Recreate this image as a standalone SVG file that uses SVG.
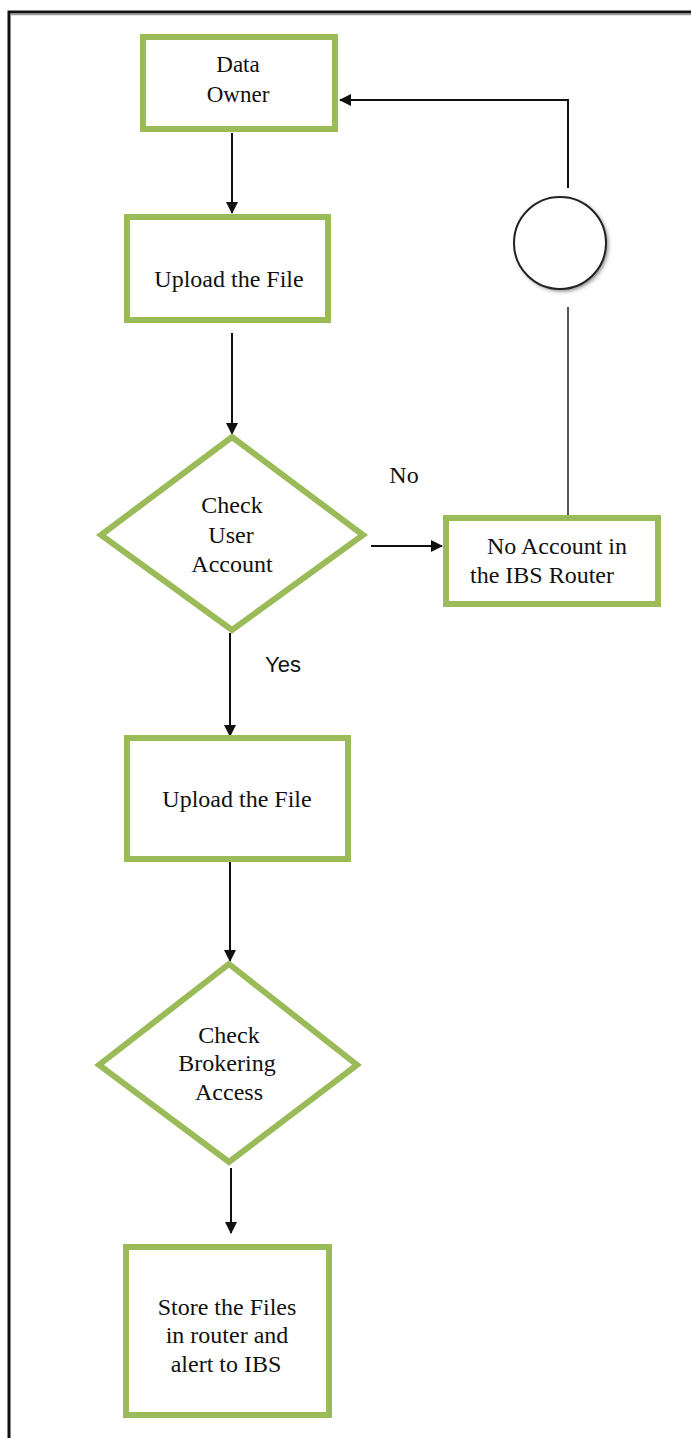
<svg xmlns="http://www.w3.org/2000/svg" width="691" height="1438" viewBox="0 0 691 1438">
<defs>
<style>
.box{fill:#fff;stroke:#9BBB59;stroke-width:6}
.t{font-family:"Liberation Serif","Times New Roman",serif;font-size:24px;fill:#111;text-anchor:middle}
.ln{fill:none;stroke:#111;stroke-width:2}
.gl{fill:none;stroke:#555;stroke-width:2}
</style>
<marker id="ah" markerWidth="12" markerHeight="12" refX="11" refY="6" orient="auto" markerUnits="userSpaceOnUse">
<path d="M0,0 L12,6 L0,12 Z" fill="#111"/>
</marker>
<filter id="sh" x="-20%" y="-20%" width="150%" height="150%">
<feGaussianBlur stdDeviation="2"/>
</filter>
</defs>
<rect width="691" height="1438" fill="#fff"/>
<g id="frame">
<path d="M9,1438 V12 H691" fill="none" stroke="#111" stroke-width="3"/>
<line x1="10" y1="14.5" x2="691" y2="14.5" stroke="#999" stroke-width="1.5"/>
</g>
<g id="connectors">
<line class="ln" x1="232" y1="133" x2="232" y2="213" marker-end="url(#ah)"/>
<line class="ln" x1="232" y1="333" x2="232" y2="434" marker-end="url(#ah)"/>
<line class="ln" x1="371" y1="546" x2="442" y2="546" marker-end="url(#ah)"/>
<line class="gl" x1="568" y1="515" x2="568" y2="307"/>
<polyline class="ln" points="568,188 568,100 340,100" marker-end="url(#ah)"/>
<line class="ln" x1="230" y1="633" x2="230" y2="736" marker-end="url(#ah)"/>
<line class="ln" x1="230" y1="862" x2="230" y2="961" marker-end="url(#ah)"/>
<line class="ln" x1="231" y1="1168" x2="231" y2="1233" marker-end="url(#ah)"/>
</g>
<g id="data-owner">
<rect class="box" x="143" y="37" width="192" height="92"/>
<text class="t" x="238" y="72" style="font-size:23px">Data</text>
<text class="t" x="238" y="102" style="font-size:23px">Owner</text>
</g>
<g id="upload-1">
<rect class="box" x="127" y="217" width="201" height="103"/>
<text class="t" x="229" y="287">Upload the File</text>
</g>
<g id="check-user-account">
<polygon class="box" points="232,437 363,535 232,630 101,535"/>
<text class="t" x="232" y="513">Check</text>
<text class="t" x="231" y="543">User</text>
<text class="t" x="232" y="572">Account</text>
</g>
<text class="t" x="404" y="483">No</text>
<g id="no-account">
<rect class="box" x="446" y="518" width="212" height="86"/>
<text class="t" x="557" y="554">No Account in</text>
<text class="t" x="542" y="583">the IBS Router</text>
</g>
<g id="connector-circle">
<circle cx="562" cy="245" r="46" fill="#777" filter="url(#sh)"/>
<circle cx="560" cy="243" r="46" fill="#fff" stroke="#222" stroke-width="2"/>
</g>
<text x="283" y="672" style="font-family:'Liberation Sans',Arial,sans-serif;font-size:22px;fill:#111;text-anchor:middle">Yes</text>
<g id="upload-2">
<rect class="box" x="127" y="738" width="221" height="121"/>
<text class="t" x="237" y="807">Upload the File</text>
</g>
<g id="check-brokering">
<polygon class="box" points="229,964 357,1065 229,1162 99,1065"/>
<text class="t" x="229" y="1043">Check</text>
<text class="t" x="227" y="1071">Brokering</text>
<text class="t" x="229" y="1100">Access</text>
</g>
<g id="store-files">
<rect class="box" x="126" y="1247" width="203" height="168"/>
<text class="t" x="227" y="1315">Store the Files</text>
<text class="t" x="227" y="1343">in router and</text>
<text class="t" x="226" y="1372">alert to IBS</text>
</g>
</svg>
